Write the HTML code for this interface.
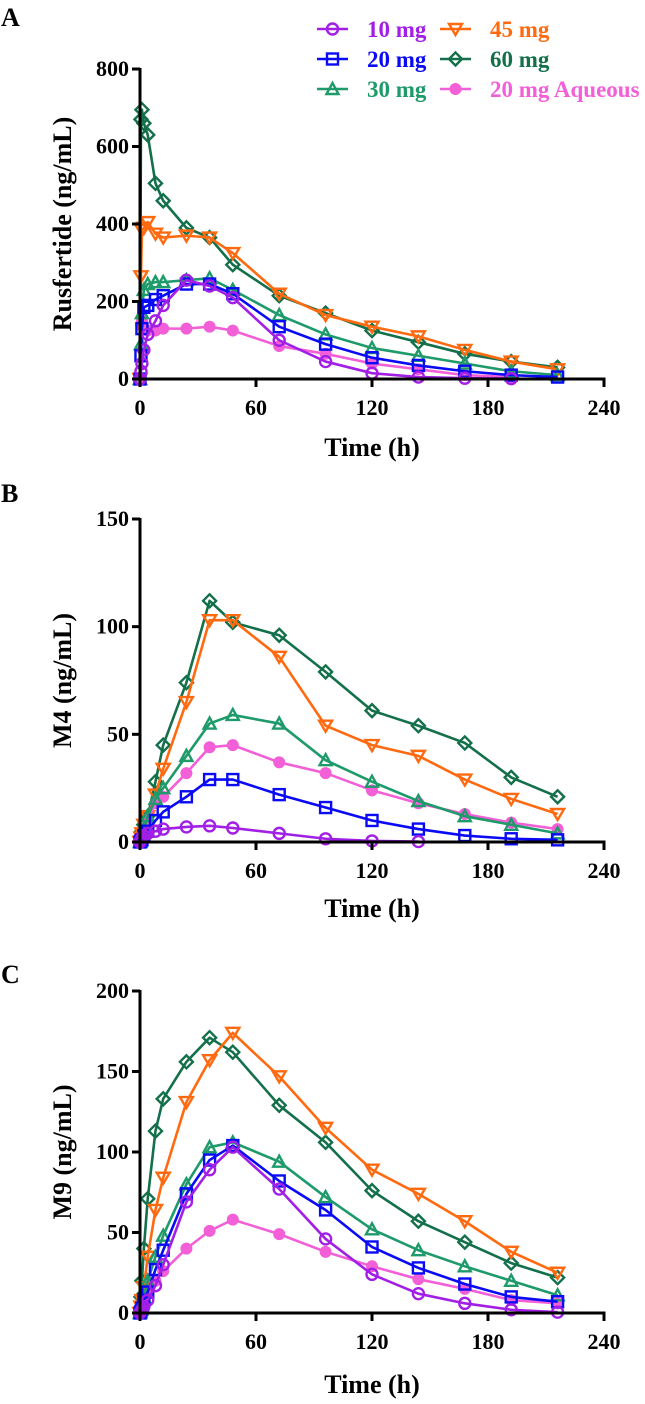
<!DOCTYPE html>
<html><head><meta charset="utf-8">
<style>
html,body{margin:0;padding:0;background:#fff;}
svg text{font-family:"Liberation Serif",serif;font-weight:bold;}
</style></head>
<body>
<svg id="fig" width="645" height="1399" viewBox="0 0 645 1399" xmlns="http://www.w3.org/2000/svg"></svg>
<script>
const times = [0,0.5,1,2,4,8,12,24,36,48,72,96,120,144,168,192,216];
const seriesNames = ["10 mg","20 mg","30 mg","45 mg","60 mg","20 mg Aqueous"];
const xTicks = [0,60,120,180,240];
// Panel A: Rusfertide
const a10 = [0,20,40,75,115,150,190,255,240,210,100,45,15,5,2,1,null];
const a20 = [0,60,130,185,190,205,215,245,245,220,135,90,55,35,20,10,5];
const a30 = [0,90,170,230,245,250,250,255,260,230,165,115,80,60,40,20,10];
const a45 = [0,265,385,390,405,375,365,370,365,325,220,165,135,110,75,45,25];
const a60 = [0,670,695,660,630,505,460,390,365,295,215,170,125,95,65,45,30];
const aAq = [0,140,150,130,125,125,130,130,135,125,85,65,40,25,10,5,null];
const aTicks = [0,200,400,600,800];
// Panel B: M4
const b10 = [0,1,2,3,4,5,6,7,7.5,6.5,4,1.5,0.5,0.2,null,null,null];
const b20 = [0,0.5,1,3,5,10,14,21,29,29,22,16,10,6,3,1.5,1];
const b30 = [0,1,3,6,12,20,25,40,55,59,55,38,28,19,12,8,4];
const b45 = [0,2,4,8,12,22,34,65,103,103,86,54,45,40,29,20,13];
const b60 = [0,2,5,8,12,28,45,74,112,102,96,79,61,54,46,30,21];
const bAq = [0,1,3,6,10,18,21,32,44,45,37,32,24,18,13,9,6];
const bTicks = [0,50,100,150];
// Panel C: M9
const c10 = [0,1,2,4,8,17,30,69,89,103,77,46,24,12,6,2,0.5];
const c20 = [0,1,3,8,13,27,39,74,95,104,82,64,41,28,18,10,7];
const c30 = [0,2,5,10,20,35,48,80,103,106,94,72,52,39,29,20,11];
const c45 = [0,4,8,16,35,64,84,131,157,174,147,115,89,74,57,38,25];
const c60 = [0,10,20,40,71,113,133,156,171,162,129,106,76,57,44,31,22];
const cAq = [0,1,3,6,12,20,26,40,51,58,49,38,29,21,15,8,6];
const cTicks = [0,50,100,150,200];

const colors = ["#A21FE6","#0A0AF5","#1F9A6A","#FF6A10","#13704A","#F25FD6"];
const markers = ["circle","square","triangle","tridown","diamond","dot"];
const NS = "http://www.w3.org/2000/svg";
const svg = document.getElementById("fig");
function mk(tag, attrs, parent){ const e=document.createElementNS(NS,tag); for(const k in attrs) e.setAttribute(k,attrs[k]); (parent||svg).appendChild(e); return e; }

function marker(g, type, x, y, col){
  let e;
  const sw = 2.4;
  if(type==="circle") e = mk("circle",{cx:x,cy:y,r:5.5,fill:"none",stroke:col,"stroke-width":sw},g);
  else if(type==="square") e = mk("rect",{x:x-5.5,y:y-5.5,width:11,height:11,fill:"none",stroke:col,"stroke-width":sw},g);
  else if(type==="triangle") e = mk("polygon",{points:`${x},${y-6} ${x-6},${y+5} ${x+6},${y+5}`,fill:"none",stroke:col,"stroke-width":sw},g);
  else if(type==="tridown") e = mk("polygon",{points:`${x},${y+6} ${x-6.5},${y-5} ${x+6.5},${y-5}`,fill:"none",stroke:col,"stroke-width":sw},g);
  else if(type==="diamond") e = mk("polygon",{points:`${x},${y-6.5} ${x+6.5},${y} ${x},${y+6.5} ${x-6.5},${y}`,fill:"none",stroke:col,"stroke-width":sw},g);
  else e = mk("circle",{cx:x,cy:y,r:5.5,fill:col,stroke:col,"stroke-width":1},g);
  return e;
}

function panel(id, letter, letterY, top, bottom, yMax, yTicksArr, yTitle, yTitleX, xTitleOff, series){
  const x0=140, x1=604;
  const g = mk("g",{});
  
  
  const xs = t => x0 + (t/240)*(x1-x0);
  const ys = v => bottom - (v/yMax)*(bottom-top);
  const lt = mk("text",{x:1,y:letterY,"font-size":26,fill:"#000"},g);
  lt.textContent = letter;
  
  
  const order=[4,3,5,2,1,0];
  order.forEach(si=>{
    const vals = series[si];
    const sg = mk("g",{},g);
    
    
    let pts=[];
    times.forEach((t,i)=>{ if(vals[i]!==null) pts.push([xs(t),ys(vals[i])]); });
    const pl = mk("polyline",{points:pts.map(p=>p.join(",")).join(" "),fill:"none",stroke:colors[si],"stroke-width":2.6,"stroke-linejoin":"round"},sg);
    
    
    pts.forEach(p=>{
      const m = marker(sg, markers[si], p[0], p[1], colors[si]);
      
      
    });
  });
  const ya = mk("line",{x1:x0,y1:top-1,x2:x0,y2:bottom+1.5,stroke:"#000","stroke-width":3},g);
  
  
  const xa = mk("line",{x1:x0-1.5,y1:bottom,x2:x1+1.5,y2:bottom,stroke:"#000","stroke-width":3},g);
  
  
  yTicksArr.forEach(v=>{
    const y=ys(v);
    mk("line",{x1:x0-8,y1:y,x2:x0,y2:y,stroke:"#000","stroke-width":3},g);
    const t = mk("text",{x:x0-11,y:y+7,"font-size":22,"text-anchor":"end",fill:"#000"},g);
    t.textContent=v;
    
    
  });
  xTicks.forEach(v=>{
    const x=xs(v);
    mk("line",{x1:x,y1:bottom,x2:x,y2:bottom+8,stroke:"#000","stroke-width":3},g);
    const t = mk("text",{x:x,y:bottom+36,"font-size":22,"text-anchor":"middle",fill:"#000"},g);
    t.textContent=v;
    
    
  });
  const xt = mk("text",{x:372,y:bottom+xTitleOff,"font-size":26,"text-anchor":"middle",fill:"#000"},g);
  xt.textContent="Time (h)";
  
  
  const cy=(top+bottom)/2;
  const yt = mk("text",{x:yTitleX,y:cy,"font-size":26,"text-anchor":"middle",fill:"#000",transform:`rotate(-90 ${yTitleX} ${cy})`},g);
  yt.textContent=yTitle;
  
  
}

panel("a","A",26,69,379,800,aTicks,"Rusfertide (ng/mL)",71,77,[a10,a20,a30,a45,a60,aAq]);
panel("b","B",502,519,842,150,bTicks,"M4 (ng/mL)",71,75,[b10,b20,b30,b45,b60,bAq]);
panel("c","C",983,991,1313,200,cTicks,"M9 (ng/mL)",71,80,[c10,c20,c30,c45,c60,cAq]);

const leg = mk("g",{});


const legPos = [[317,29],[317,59],[317,89],[440,29],[440,59],[440,89]];
seriesNames.forEach((n,i)=>{
  const [lx,ly]=legPos[i];
  const e = mk("g",{},leg);
  
  
  mk("line",{x1:lx,y1:ly,x2:lx+31,y2:ly,stroke:colors[i],"stroke-width":2.6},e);
  marker(e, markers[i], lx+15.5, ly, colors[i]);
  const t = mk("text",{x:lx+50,y:ly+8,"font-size":23,fill:colors[i]},e);
  t.textContent=n;
});
</script>
</body></html>
